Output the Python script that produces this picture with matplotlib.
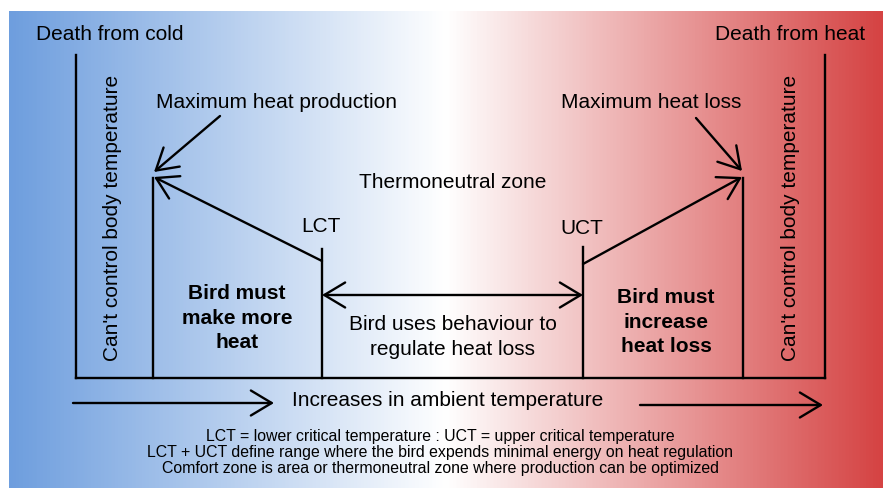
import numpy as np
import matplotlib
matplotlib.use("Agg")
import matplotlib.pyplot as plt
from matplotlib.colors import LinearSegmentedColormap

plt.rcParams['font.family'] = ['Liberation Sans', 'DejaVu Sans']

# ---- diagram data (pixel layout of the conceptual temperature axis) ----
zone_x = {"death_cold": 76, "max_prod": 153, "lct": 322, "uct": 583, "max_loss": 743, "death_heat": 825}
line_tops = {"death_cold": 55, "max_prod": 178, "lct": 249, "uct": 247, "max_loss": 178, "death_heat": 55}
baseline_y = 378
slope_start = {"lct": 261, "uct": 264}

top_labels = ["Death from cold", "Death from heat"]
top_label_x = [110, 790]
side_label = "Can't control body temperature"
side_label_x = [113, 791]
peak_labels = ["Maximum heat production", "Maximum heat loss"]
peak_label_xy = [(277, 102), (651, 102)]
peak_arrow_from = [(220, 116), (696, 118)]
peak_arrow_to = [(154, 172), (742, 171)]
crit_labels = ["LCT", "UCT"]
crit_label_xy = [(321, 226), (582, 229)]
zone_title = "Thermoneutral zone"
zone_title_xy = (453, 182)
region_texts = ["Bird must\nmake more\nheat", "Bird uses behaviour to\nregulate heat loss", "Bird must\nincrease\nheat loss"]
region_xy = [(237, 318), (453, 337), (666, 322)]
region_bold = [True, False, True]
axis_label = "Increases in ambient temperature"
footnotes = ["LCT = lower critical temperature : UCT = upper critical temperature",
             "LCT + UCT define range where the bird expends minimal energy on heat regulation",
             "Comfort zone is area or thermoneutral zone where production can be optimized"]
footnote_y = [436, 452, 469]

W, H = 883, 488
fig = plt.figure(figsize=(W / 100, H / 100), dpi=100)
ax = fig.add_axes([0, 0, 1, 1])
ax.set_xlim(0, W)
ax.set_ylim(H, 0)
ax.axis('off')

cmap = LinearSegmentedColormap.from_list("bwr_custom", ["#6E9EDE", "#FFFFFF", "#D54343"])
grad = np.linspace(0, 1, 512).reshape(1, -1)
ax.imshow(grad, cmap=cmap, extent=[9, W, H, 11], aspect='auto', zorder=0)

FS = 15
lw = 1.7
# vertical lines
for k, x in zone_x.items():
    ax.plot([x, x], [line_tops[k], baseline_y], color='black', lw=lw, zorder=2)
# baseline
ax.plot([zone_x["death_cold"], zone_x["death_heat"]], [baseline_y, baseline_y], color='black', lw=lw, zorder=2)

arrow_kw = dict(arrowstyle='->,head_length=0.5,head_width=0.3', color='black', lw=lw,
                mutation_scale=30, shrinkA=0, shrinkB=0)
# slopes
ax.annotate("", xy=(zone_x["max_prod"] + 1, line_tops["max_prod"] - 1),
            xytext=(zone_x["lct"], slope_start["lct"]), arrowprops=arrow_kw)
ax.annotate("", xy=(zone_x["max_loss"] - 1, line_tops["max_loss"] - 1),
            xytext=(zone_x["uct"], slope_start["uct"]), arrowprops=arrow_kw)
# double arrow
ax.annotate("", xy=(zone_x["lct"], 295), xytext=(zone_x["uct"], 295),
            arrowprops=dict(arrowstyle='<->,head_length=0.5,head_width=0.3', color='black', lw=lw,
                            mutation_scale=30, shrinkA=0, shrinkB=0))
# peak pointers
for lab, xy, a0, a1 in zip(peak_labels, peak_label_xy, peak_arrow_from, peak_arrow_to):
    ax.text(xy[0], xy[1], lab, ha='center', va='center', fontsize=FS)
    ax.annotate("", xy=a1, xytext=a0, arrowprops=arrow_kw)

for lab, x in zip(top_labels, top_label_x):
    ax.text(x, 35, lab, ha='center', va='center', fontsize=FS)
for x in side_label_x:
    ax.text(x, 218, side_label, ha='center', va='center', rotation=90, fontsize=FS)
for lab, xy in zip(crit_labels, crit_label_xy):
    ax.text(xy[0], xy[1], lab, ha='center', va='center', fontsize=FS)
ax.text(*zone_title_xy, zone_title, ha='center', va='center', fontsize=FS)
for t, xy, b in zip(region_texts, region_xy, region_bold):
    ax.text(xy[0], xy[1], t, ha='center', va='center', fontsize=FS,
            fontweight='bold' if b else 'normal', linespacing=1.35)

# ambient temperature arrows
ax.annotate("", xy=(274, 403), xytext=(73, 403), arrowprops=arrow_kw)
ax.annotate("", xy=(823, 405), xytext=(640, 405), arrowprops=arrow_kw)
ax.text(448, 400, axis_label, ha='center', va='center', fontsize=FS)

for t, y in zip(footnotes, footnote_y):
    ax.text(440, y, t, ha='center', va='center', fontsize=11.4)

fig.savefig("out.png", dpi=100)
